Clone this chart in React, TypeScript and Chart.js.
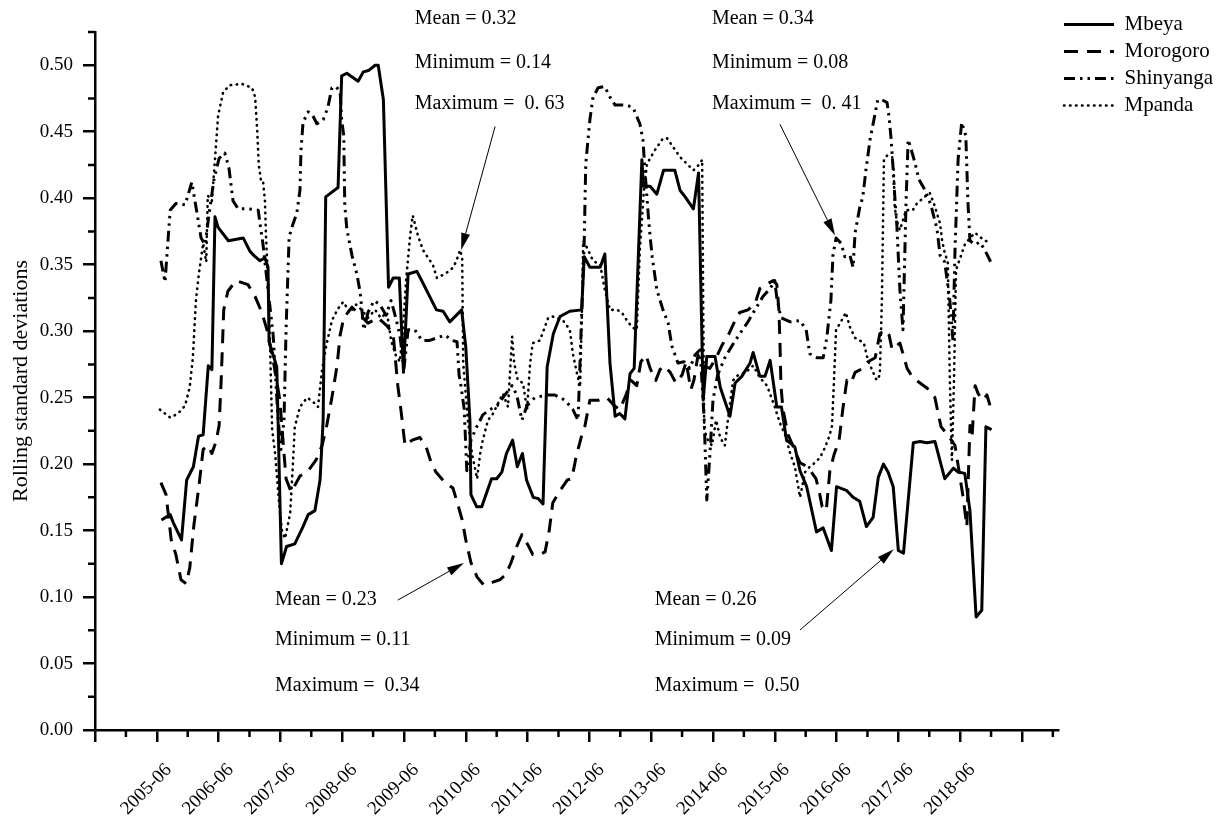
import React, { useEffect, useRef } from 'react';
import { Chart, registerables } from 'chart.js';

Chart.register(...registerables);

const FONT = "'Liberation Serif', 'Times New Roman', Times, serif";

// x = months after 2004-06, y = rolling standard deviation
const seriesNames = ['Mbeya', 'Morogoro', 'Shinyanga', 'Mpanda'];

const yearLabels = ['2005-06', '2006-06', '2007-06', '2008-06', '2009-06', '2010-06', '2011-06',
  '2012-06', '2013-06', '2014-06', '2015-06', '2016-06', '2017-06', '2018-06'];

const mbeya: number[][] = [
  [12.9,0.158],[14.6,0.162],[15.2,0.156],[16.8,0.143],[17.8,0.188],[19.1,0.198],[20.1,0.221],[21.0,0.222],
  [22.0,0.274],[22.7,0.271],[23.3,0.386],[23.9,0.378],[25.9,0.368],[28.8,0.370],[30.1,0.360],[31.1,0.356],
  [32.0,0.353],[33.0,0.355],[33.6,0.348],[33.8,0.292],[35.3,0.273],[36.2,0.125],[37.2,0.138],[38.8,0.140],
  [40.4,0.153],[41.4,0.162],[42.7,0.165],[43.7,0.188],[44.3,0.233],[44.8,0.401],[47.2,0.408],[47.9,0.492],
  [48.9,0.494],[51.1,0.488],[52.1,0.495],[53.1,0.496],[54.4,0.500],[55.0,0.500],[56.0,0.474],[57.0,0.333],
  [57.9,0.340],[59.1,0.340],[59.9,0.269],[60.8,0.343],[62.5,0.345],[63.7,0.336],[65.0,0.326],[66.3,0.316],
  [67.6,0.315],[68.9,0.307],[71.2,0.316],[72.0,0.288],[72.8,0.233],[73.0,0.177],[74.1,0.168],[75.1,0.168],
  [77.0,0.189],[78.0,0.189],[79.0,0.194],[79.9,0.208],[81.1,0.218],[82.0,0.198],[83.0,0.208],[83.8,0.188],
  [85.1,0.175],[86.1,0.174],[87.0,0.170],[87.8,0.273],[89.0,0.298],[90.3,0.311],[92.2,0.315],[94.5,0.316],
  [95.0,0.356],[96.1,0.348],[98.1,0.348],[99.0,0.358],[100.0,0.276],[101.0,0.236],[101.9,0.238],[102.9,0.234],
  [103.9,0.268],[104.7,0.272],[106.2,0.429],[106.5,0.409],[107.8,0.409],[109.1,0.403],[110.4,0.421],[112.6,0.421],
  [113.6,0.406],[114.6,0.401],[116.2,0.392],[117.2,0.419],[118.1,0.248],[118.8,0.281],[120.4,0.281],[121.4,0.258],
  [123.3,0.236],[124.3,0.261],[125.6,0.266],[127.2,0.276],[127.8,0.284],[129.1,0.266],[130.1,0.266],[131.1,0.278],
  [132.4,0.243],[133.3,0.243],[134.3,0.218],[135.9,0.213],[136.9,0.195],[138.2,0.183],[140.1,0.149],[141.4,0.152],
  [143.0,0.135],[144.0,0.183],[146.0,0.180],[147.2,0.175],[148.5,0.172],[149.8,0.153],[151.1,0.160],[152.1,0.190],
  [153.1,0.200],[154.0,0.194],[155.0,0.183],[156.0,0.135],[157.0,0.133],[158.9,0.216],[160.2,0.217],[161.5,0.216],
  [163.1,0.217],[165.0,0.189],[166.7,0.197],[167.6,0.194],[168.9,0.193],[169.9,0.165],[171.1,0.085],[172.2,0.090],
  [173.0,0.228],[174.1,0.226],
];

const morogoro: number[][] = [
  [12.8,0.186],[13.8,0.177],[14.8,0.143],[15.7,0.132],[16.7,0.113],[17.7,0.110],[18.4,0.122],[19.2,0.154],
  [20.2,0.184],[21.0,0.211],[21.9,0.214],[22.7,0.208],[23.5,0.217],[24.1,0.229],[24.5,0.263],[25.0,0.316],
  [25.8,0.330],[27.4,0.338],[29.7,0.335],[31.1,0.326],[32.4,0.314],[33.4,0.301],[34.4,0.282],[35.1,0.267],
  [35.9,0.248],[36.5,0.218],[37.1,0.189],[38.1,0.179],[39.8,0.191],[41.4,0.195],[42.9,0.203],[44.1,0.214],
  [45.0,0.229],[46.0,0.250],[47.0,0.274],[47.6,0.297],[48.3,0.310],[49.9,0.318],[51.5,0.312],[53.0,0.306],
  [55.0,0.310],[56.7,0.304],[57.9,0.298],[58.8,0.259],[59.4,0.241],[60.2,0.214],[61.6,0.218],[63.1,0.220],
  [64.3,0.213],[65.2,0.202],[66.2,0.194],[68.0,0.186],[69.5,0.182],[70.5,0.169],[71.3,0.158],[72.0,0.143],
  [73.0,0.126],[74.2,0.115],[75.5,0.109],[77.1,0.111],[78.6,0.113],[79.8,0.117],[80.8,0.126],[81.9,0.138],
  [82.9,0.147],[84.1,0.139],[85.0,0.132],[86.4,0.132],[87.4,0.134],[88.2,0.150],[88.9,0.171],[90.3,0.180],
  [91.7,0.188],[92.6,0.189],[93.4,0.205],[94.4,0.220],[95.1,0.228],[96.1,0.248],[97.7,0.248],[99.4,0.250],
  [100.8,0.244],[101.9,0.241],[103.1,0.252],[104.1,0.263],[105.2,0.259],[106.0,0.277],[107.0,0.282],[107.8,0.272],
  [108.9,0.263],[109.7,0.271],[110.5,0.274],[111.7,0.269],[112.8,0.261],[114.0,0.267],[114.8,0.277],[115.7,0.256],
  [116.3,0.263],[117.1,0.282],[118.1,0.274],[119.4,0.272],[120.6,0.280],[121.7,0.289],[123.1,0.298],[124.3,0.308],
  [125.2,0.314],[126.8,0.316],[128.2,0.321],[129.1,0.332],[130.3,0.335],[131.7,0.338],[132.4,0.335],[132.8,0.316],
  [133.0,0.293],[133.2,0.259],[133.6,0.241],[134.6,0.222],[135.5,0.214],[136.9,0.201],[138.4,0.198],[140.0,0.189],
  [140.6,0.180],[141.2,0.168],[142.0,0.165],[142.7,0.195],[143.5,0.207],[144.5,0.218],[145.2,0.241],[146.0,0.263],
  [146.8,0.261],[147.6,0.269],[149.1,0.272],[150.1,0.277],[151.5,0.280],[152.4,0.298],[153.4,0.301],[154.2,0.297],
  [154.8,0.286],[156.3,0.291],[157.7,0.272],[158.8,0.265],[161.6,0.257],[163.1,0.250],[163.9,0.235],[164.3,0.228],
  [165.6,0.222],[167.0,0.214],[168.5,0.177],[169.3,0.153],[169.9,0.229],[170.3,0.220],[170.9,0.259],[171.5,0.253],
  [172.4,0.248],[173.2,0.252],[173.8,0.244],
];

const shinyanga: number[][] = [
  [12.8,0.353],[13.6,0.337],[14.6,0.391],[15.7,0.396],[17.5,0.395],[18.8,0.412],[19.8,0.389],[20.6,0.370],
  [21.4,0.365],[22.1,0.387],[23.1,0.414],[24.1,0.430],[25.2,0.434],[26.0,0.423],[26.8,0.398],[27.8,0.392],
  [29.7,0.392],[31.7,0.391],[32.0,0.382],[32.6,0.366],[33.6,0.331],[34.6,0.297],[35.5,0.237],[36.1,0.211],
  [36.7,0.233],[37.1,0.301],[37.7,0.371],[38.4,0.380],[39.2,0.389],[39.8,0.406],[40.0,0.436],[40.4,0.457],
  [41.4,0.465],[42.3,0.462],[43.1,0.456],[44.3,0.459],[45.2,0.468],[46.0,0.483],[46.8,0.484],[47.6,0.480],
  [47.9,0.459],[48.3,0.447],[48.5,0.395],[48.9,0.377],[49.9,0.357],[50.9,0.342],[51.5,0.329],[52.2,0.301],
  [53.0,0.314],[54.2,0.323],[55.3,0.320],[56.5,0.312],[57.5,0.323],[58.4,0.310],[59.2,0.297],[60.0,0.272],
  [60.8,0.301],[62.1,0.301],[63.5,0.293],[65.0,0.293],[66.4,0.295],[68.0,0.297],[69.3,0.293],[70.3,0.292],
  [70.7,0.267],[71.1,0.258],[71.7,0.241],[72.2,0.195],[73.0,0.218],[74.0,0.227],[75.3,0.237],[76.7,0.241],
  [78.1,0.244],[79.6,0.252],[81.0,0.259],[81.9,0.252],[82.9,0.233],[83.9,0.244],[85.4,0.250],[87.8,0.252],
  [89.3,0.252],[91.3,0.248],[92.8,0.241],[93.8,0.233],[94.4,0.301],[95.0,0.368],[95.3,0.426],[96.1,0.459],
  [96.7,0.476],[97.7,0.483],[99.0,0.484],[100.0,0.476],[101.0,0.470],[103.3,0.470],[104.5,0.468],[105.8,0.456],
  [106.4,0.444],[106.8,0.421],[107.4,0.389],[107.8,0.371],[108.2,0.356],[109.1,0.331],[110.3,0.316],[111.3,0.306],
  [112.0,0.289],[113.2,0.276],[114.4,0.277],[115.5,0.272],[116.5,0.282],[117.5,0.286],[118.3,0.233],[118.8,0.173],
  [119.4,0.207],[120.0,0.248],[120.9,0.267],[122.3,0.280],[123.7,0.289],[125.2,0.298],[126.8,0.307],[128.3,0.317],
  [129.7,0.326],[131.1,0.332],[132.0,0.338],[132.4,0.325],[133.2,0.310],[135.0,0.307],[136.9,0.308],[138.1,0.301],
  [138.8,0.283],[140.2,0.280],[141.4,0.280],[142.1,0.295],[142.9,0.323],[143.3,0.357],[143.9,0.370],[144.9,0.366],
  [145.6,0.356],[146.6,0.357],[147.2,0.348],[147.6,0.374],[148.5,0.393],[149.1,0.401],[149.7,0.421],[150.5,0.444],
  [151.3,0.460],[152.0,0.474],[152.8,0.474],[153.8,0.472],[154.2,0.461],[154.6,0.444],[155.0,0.421],[155.3,0.402],
  [155.7,0.380],[156.3,0.331],[156.9,0.301],[157.5,0.398],[157.9,0.444],[158.4,0.438],[159.2,0.427],[160.0,0.414],
  [161.2,0.406],[162.3,0.395],[163.5,0.377],[164.1,0.357],[165.0,0.352],[166.0,0.323],[166.6,0.293],[167.0,0.361],
  [167.6,0.429],[168.3,0.457],[169.1,0.447],[169.5,0.398],[169.9,0.368],[170.9,0.365],[171.8,0.367],[172.8,0.361],
  [174.2,0.350],
];

const mpanda: number[][] = [
  [12.6,0.241],[14.6,0.235],[16.1,0.238],[17.5,0.244],[18.4,0.258],[19.0,0.280],[19.6,0.323],[20.2,0.344],
  [21.0,0.366],[21.6,0.352],[21.9,0.402],[22.7,0.398],[23.3,0.429],[23.9,0.462],[24.9,0.480],[26.2,0.485],
  [28.5,0.486],[30.5,0.483],[31.1,0.476],[31.5,0.451],[31.8,0.425],[32.2,0.414],[32.6,0.414],[33.0,0.398],
  [33.2,0.372],[33.6,0.338],[34.0,0.289],[34.4,0.226],[35.0,0.207],[35.7,0.173],[36.3,0.150],[36.9,0.144],
  [37.9,0.163],[38.4,0.198],[38.8,0.228],[39.8,0.243],[41.2,0.250],[42.3,0.247],[43.3,0.243],[44.1,0.271],
  [44.9,0.289],[46.0,0.308],[47.2,0.317],[48.2,0.322],[49.5,0.314],[50.7,0.320],[51.8,0.316],[53.0,0.310],
  [54.4,0.316],[55.5,0.310],[56.7,0.314],[57.5,0.293],[58.4,0.282],[59.2,0.277],[59.8,0.301],[60.4,0.338],
  [61.2,0.372],[61.7,0.387],[62.7,0.372],[63.7,0.361],[64.7,0.355],[65.6,0.350],[66.4,0.340],[67.4,0.342],
  [68.3,0.344],[69.3,0.347],[70.1,0.352],[70.9,0.361],[71.3,0.355],[71.5,0.276],[72.4,0.233],[73.2,0.208],
  [74.2,0.189],[74.8,0.208],[75.3,0.218],[76.3,0.233],[77.3,0.238],[78.3,0.246],[79.2,0.253],[80.2,0.243],
  [81.0,0.296],[81.4,0.276],[82.1,0.263],[83.1,0.261],[83.9,0.241],[84.5,0.276],[85.0,0.291],[86.4,0.293],
  [88.0,0.310],[88.9,0.311],[90.9,0.308],[92.2,0.301],[92.8,0.283],[93.6,0.268],[94.2,0.258],[94.6,0.323],
  [94.8,0.368],[95.5,0.363],[96.7,0.353],[98.1,0.350],[99.0,0.331],[100.0,0.316],[101.4,0.316],[102.3,0.314],
  [103.3,0.308],[104.3,0.303],[105.2,0.301],[105.8,0.361],[106.6,0.406],[107.2,0.426],[108.7,0.436],[110.3,0.445],
  [111.1,0.445],[113.6,0.431],[116.2,0.421],[117.5,0.426],[117.9,0.429],[118.1,0.323],[118.3,0.226],[119.0,0.218],
  [119.8,0.214],[120.6,0.233],[121.4,0.220],[122.3,0.214],[122.9,0.233],[123.9,0.263],[124.9,0.267],[126.4,0.269],
  [127.8,0.274],[129.1,0.265],[130.5,0.259],[132.0,0.243],[133.0,0.231],[134.0,0.222],[135.0,0.208],[135.9,0.198],
  [136.9,0.175],[137.9,0.194],[138.8,0.198],[139.8,0.201],[140.8,0.205],[141.7,0.212],[142.5,0.220],[143.1,0.228],
  [143.5,0.263],[143.9,0.301],[144.7,0.306],[145.8,0.314],[146.6,0.303],[147.6,0.295],[148.5,0.293],[149.3,0.291],
  [150.1,0.278],[151.1,0.269],[151.8,0.263],[152.4,0.267],[152.8,0.323],[153.2,0.429],[153.8,0.432],[154.8,0.431],
  [155.1,0.421],[155.3,0.393],[155.7,0.383],[156.3,0.376],[157.5,0.391],[158.8,0.391],[159.6,0.396],[160.2,0.398],
  [161.4,0.402],[162.1,0.404],[162.9,0.396],[164.1,0.381],[164.5,0.368],[165.0,0.359],[165.6,0.352],[166.0,0.263],
  [166.4,0.203],[166.8,0.263],[167.2,0.346],[168.0,0.355],[168.9,0.365],[169.9,0.370],[170.9,0.374],[171.8,0.371],
  [172.8,0.368],[173.8,0.367],
];

// statistic notes: text lines anchored at (month, value); arrows from tail to tip in data units
const noteBlocks = [
  { month: 62.1, values: [0.535, 0.502, 0.471], lines: ['Mean = 0.32', 'Minimum = 0.14', 'Maximum =  0. 63'] },
  { month: 119.8, values: [0.535, 0.502, 0.471], lines: ['Mean = 0.34', 'Minimum = 0.08', 'Maximum =  0. 41'] },
  { month: 34.95, values: [0.0977, 0.0677, 0.0331], lines: ['Mean = 0.23', 'Minimum = 0.11', 'Maximum =  0.34'] },
  { month: 108.7, values: [0.0977, 0.0677, 0.0331], lines: ['Mean = 0.26', 'Minimum = 0.09', 'Maximum =  0.50'] },
];
const noteArrows = [
  { from: [77.7, 0.454], to: [71.1, 0.361] },
  { from: [58.8, 0.0977], to: [71.65, 0.1256] },
  { from: [133.0, 0.4556], to: [143.7, 0.372] },
  { from: [136.9, 0.0752], to: [155.1, 0.136] },
];

const isMajorX = (v: number) => Math.round(v) % 12 === 0;
const isMajorY = (v: number) => Math.round(v * 1000) % 50 === 0;

export default function App() {
  const canvasRef = useRef<HTMLCanvasElement>(null);

  useEffect(() => {
    const canvas = canvasRef.current;
    if (!canvas) return;

    const toPoints = (arr: number[][]) => arr.map(([x, y]) => ({ x, y }));

    const minorTicks = {
      id: 'minorTicks',
      afterDraw(chart: any) {
        const { ctx } = chart;
        const xs = chart.scales.x;
        const ys = chart.scales.y;
        ctx.save();
        ctx.strokeStyle = '#000';
        ctx.lineWidth = 2.5;
        ctx.beginPath();
        xs.ticks.forEach((t: any) => {
          if (!isMajorX(t.value)) {
            const px = xs.getPixelForValue(t.value);
            ctx.moveTo(px, xs.top);
            ctx.lineTo(px, xs.top + 7);
          }
        });
        ys.ticks.forEach((t: any) => {
          if (!isMajorY(t.value)) {
            const py = ys.getPixelForValue(t.value);
            ctx.moveTo(ys.right, py);
            ctx.lineTo(ys.right - 7, py);
          }
        });
        ctx.stroke();
        ctx.restore();
      },
    };

    const legendPlacer = {
      id: 'legendPlacer',
      afterLayout(chart: any) {
        const lg = chart.legend;
        if (lg) {
          const h = lg.height;
          lg.top = 8;
          lg.bottom = 8 + h;
        }
      },
    };

    const notes = {
      id: 'notes',
      afterDraw(chart: any) {
        const { ctx } = chart;
        const xs = chart.scales.x;
        const ys = chart.scales.y;
        ctx.save();
        ctx.fillStyle = '#000';
        ctx.font = `20px ${FONT}`;
        ctx.textAlign = 'left';
        ctx.textBaseline = 'middle';
        noteBlocks.forEach((b) => {
          const px = xs.getPixelForValue(b.month);
          b.lines.forEach((line, i) => {
            ctx.fillText(line, px, ys.getPixelForValue(b.values[i]));
          });
        });
        ctx.strokeStyle = '#000';
        ctx.lineWidth = 1;
        noteArrows.forEach((a) => {
          const x1 = xs.getPixelForValue(a.from[0]);
          const y1 = ys.getPixelForValue(a.from[1]);
          const x2 = xs.getPixelForValue(a.to[0]);
          const y2 = ys.getPixelForValue(a.to[1]);
          const ang = Math.atan2(y2 - y1, x2 - x1);
          const len = 17;
          const half = 4.5;
          const bx = x2 - Math.cos(ang) * len;
          const by = y2 - Math.sin(ang) * len;
          ctx.beginPath();
          ctx.moveTo(x1, y1);
          ctx.lineTo(bx, by);
          ctx.stroke();
          ctx.beginPath();
          ctx.moveTo(x2, y2);
          ctx.lineTo(bx + Math.sin(ang) * half, by - Math.cos(ang) * half);
          ctx.lineTo(bx - Math.sin(ang) * half, by + Math.cos(ang) * half);
          ctx.closePath();
          ctx.fill();
        });
        ctx.restore();
      },
    };

    const styles = [
      { borderWidth: 3, borderDash: [] as number[], borderCapStyle: 'butt' },
      { borderWidth: 3, borderDash: [14, 9], borderCapStyle: 'butt' },
      { borderWidth: 3, borderDash: [11, 5, 2.5, 5, 2.5, 5], borderCapStyle: 'butt' },
      { borderWidth: 2.6, borderDash: [0.5, 5.5], borderCapStyle: 'round' },
    ];
    const allSeries = [mbeya, morogoro, shinyanga, mpanda];

    const options: any = {
      responsive: false,
      animation: false,
      devicePixelRatio: 1,
      layout: { padding: { top: 32, left: 0, right: 0, bottom: 0 } },
      elements: { point: { radius: 0 }, line: { tension: 0, borderJoinStyle: 'round' } },
      plugins: {
        tooltip: { enabled: false },
        title: { display: false },
        legend: {
          display: true,
          position: 'right',
          align: 'start',
          labels: {
            usePointStyle: true,
            pointStyle: 'line',
            pointStyleWidth: 50,
            padding: 6,
            color: '#000',
            font: { family: FONT, size: 21 },
            generateLabels: (chart: any) =>
              chart.data.datasets.map((ds: any, i: number) => ({
                text: ds.label,
                fillStyle: '#000',
                strokeStyle: '#000',
                fontColor: '#000',
                lineWidth: ds.borderWidth,
                lineDash: ds.borderDash,
                lineCap: ds.borderCapStyle,
                pointStyle: 'line',
                hidden: false,
                datasetIndex: i,
              })),
          },
        },
      },
      scales: {
        x: {
          type: 'linear',
          min: 0,
          max: 187,
          afterFit: (s: any) => { s.height = 86; },
          border: { display: true, color: '#000', width: 2.5 },
          grid: {
            drawOnChartArea: false,
            drawTicks: true,
            tickLength: 12,
            lineWidth: 2.5,
            tickWidth: 2.5,
            tickColor: (c: any) => (c.tick && isMajorX(c.tick.value) ? '#000' : 'rgba(0,0,0,0)'),
          },
          ticks: {
            stepSize: 6,
            includeBounds: false,
            autoSkip: false,
            maxRotation: 45,
            minRotation: 45,
            padding: 17,
            labelOffset: 12,
            color: '#000',
            font: { family: FONT, size: 19 },
            callback: (v: any) => {
              const n = Math.round(Number(v));
              if (n % 12 !== 0) return '';
              return yearLabels[n / 12 - 1] ?? '';
            },
          },
        },
        y: {
          type: 'linear',
          min: 0,
          max: 0.525,
          afterFit: (s: any) => { s.width = 95; },
          border: { display: true, color: '#000', width: 2.5 },
          grid: {
            drawOnChartArea: false,
            drawTicks: true,
            tickLength: 12,
            lineWidth: 2.5,
            tickWidth: 2.5,
            tickColor: (c: any) => (c.tick && isMajorY(c.tick.value) ? '#000' : 'rgba(0,0,0,0)'),
          },
          ticks: {
            stepSize: 0.025,
            autoSkip: false,
            padding: 10,
            color: '#000',
            font: { family: FONT, size: 19 },
            callback: (v: any) => (isMajorY(Number(v)) ? Number(v).toFixed(2) : ''),
          },
          title: {
            display: true,
            text: 'Rolling standard deviations',
            color: '#000',
            font: { family: FONT, size: 22 },
            padding: { top: 8, bottom: 0 },
          },
        },
      },
    };

    const chart = new Chart(canvas, {
      type: 'line',
      data: {
        datasets: allSeries.map((s, i) => ({
          label: seriesNames[i],
          data: toPoints(s),
          borderColor: '#000',
          backgroundColor: '#000',
          fill: false,
          pointRadius: 0,
          ...styles[i],
        })),
      },
      options,
      plugins: [minorTicks, legendPlacer, notes],
    } as any);

    const lw = chart.legend ? (chart.legend as any).width : 0;
    options.layout.padding.right = Math.max(0, 1230 - 1058 - lw);
    chart.update();

    return () => chart.destroy();
  }, []);

  return (
    <div style={{ position: 'absolute', left: 0, top: 0, width: 1230, height: 816, background: '#fff' }}>
      <canvas ref={canvasRef} width={1230} height={816} style={{ display: 'block' }} />
    </div>
  );
}
